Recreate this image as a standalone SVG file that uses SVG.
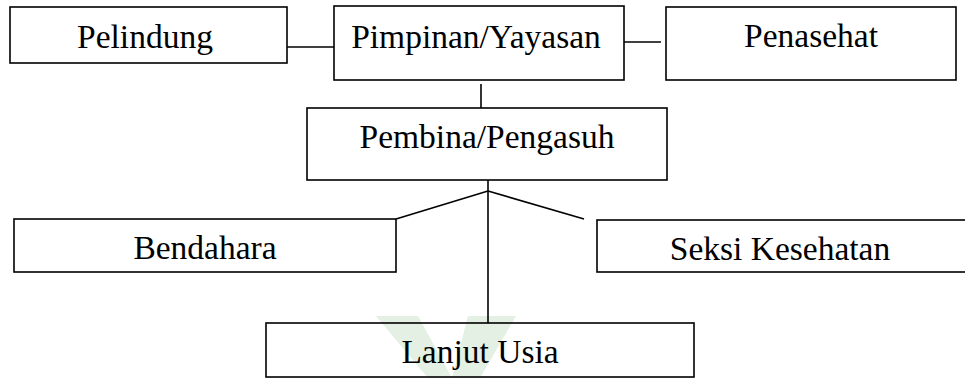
<svg xmlns="http://www.w3.org/2000/svg" width="965" height="378" viewBox="0 0 965 378">
<style>
.box{fill:none;stroke:#000;stroke-width:1.6}
.ln{stroke:#000;stroke-width:1.6;fill:none}
.t{font-family:'Liberation Serif','Times New Roman',Times,serif;font-size:33.5px;fill:#000;text-anchor:middle}
.wm{fill:#e3f0e3}
</style>
<rect width="965" height="378" fill="#fff"/>
<g id="watermark">
<polygon class="wm" points="376,316 418,316 452,378 428,378"/>
<polygon class="wm" points="468,316 516,316 480,378 452,378"/>
</g>
<g id="connectors">
<line class="ln" x1="287" y1="47" x2="334" y2="47"/>
<line class="ln" x1="624" y1="42" x2="661" y2="42"/>
<line class="ln" x1="481" y1="84" x2="481" y2="108"/>
<line class="ln" x1="488" y1="180" x2="488" y2="323"/>
<line class="ln" x1="488" y1="191" x2="396" y2="219"/>
<line class="ln" x1="488" y1="191" x2="584" y2="219"/>
</g>
<g id="pelindung"><rect class="box" x="10" y="7" width="277" height="56"/><text class="t" x="145" y="48">Pelindung</text></g>
<g id="pimpinan"><rect class="box" x="334" y="6" width="290" height="74"/><text class="t" x="476" y="48">Pimpinan/Yayasan</text></g>
<g id="penasehat"><rect class="box" x="666" y="7" width="290" height="73"/><text class="t" x="811" y="47">Penasehat</text></g>
<g id="pembina"><rect class="box" x="307" y="108" width="360" height="72"/><text class="t" x="487" y="148">Pembina/Pengasuh</text></g>
<g id="bendahara"><rect class="box" x="14" y="219" width="382" height="53"/><text class="t" x="205" y="259">Bendahara</text></g>
<g id="seksi"><rect class="box" x="597" y="220" width="380" height="52"/><text class="t" x="780" y="260">Seksi Kesehatan</text></g>
<g id="lanjut"><rect class="box" x="266" y="323" width="428" height="54"/><text class="t" x="480" y="363">Lanjut Usia</text></g>
</svg>
